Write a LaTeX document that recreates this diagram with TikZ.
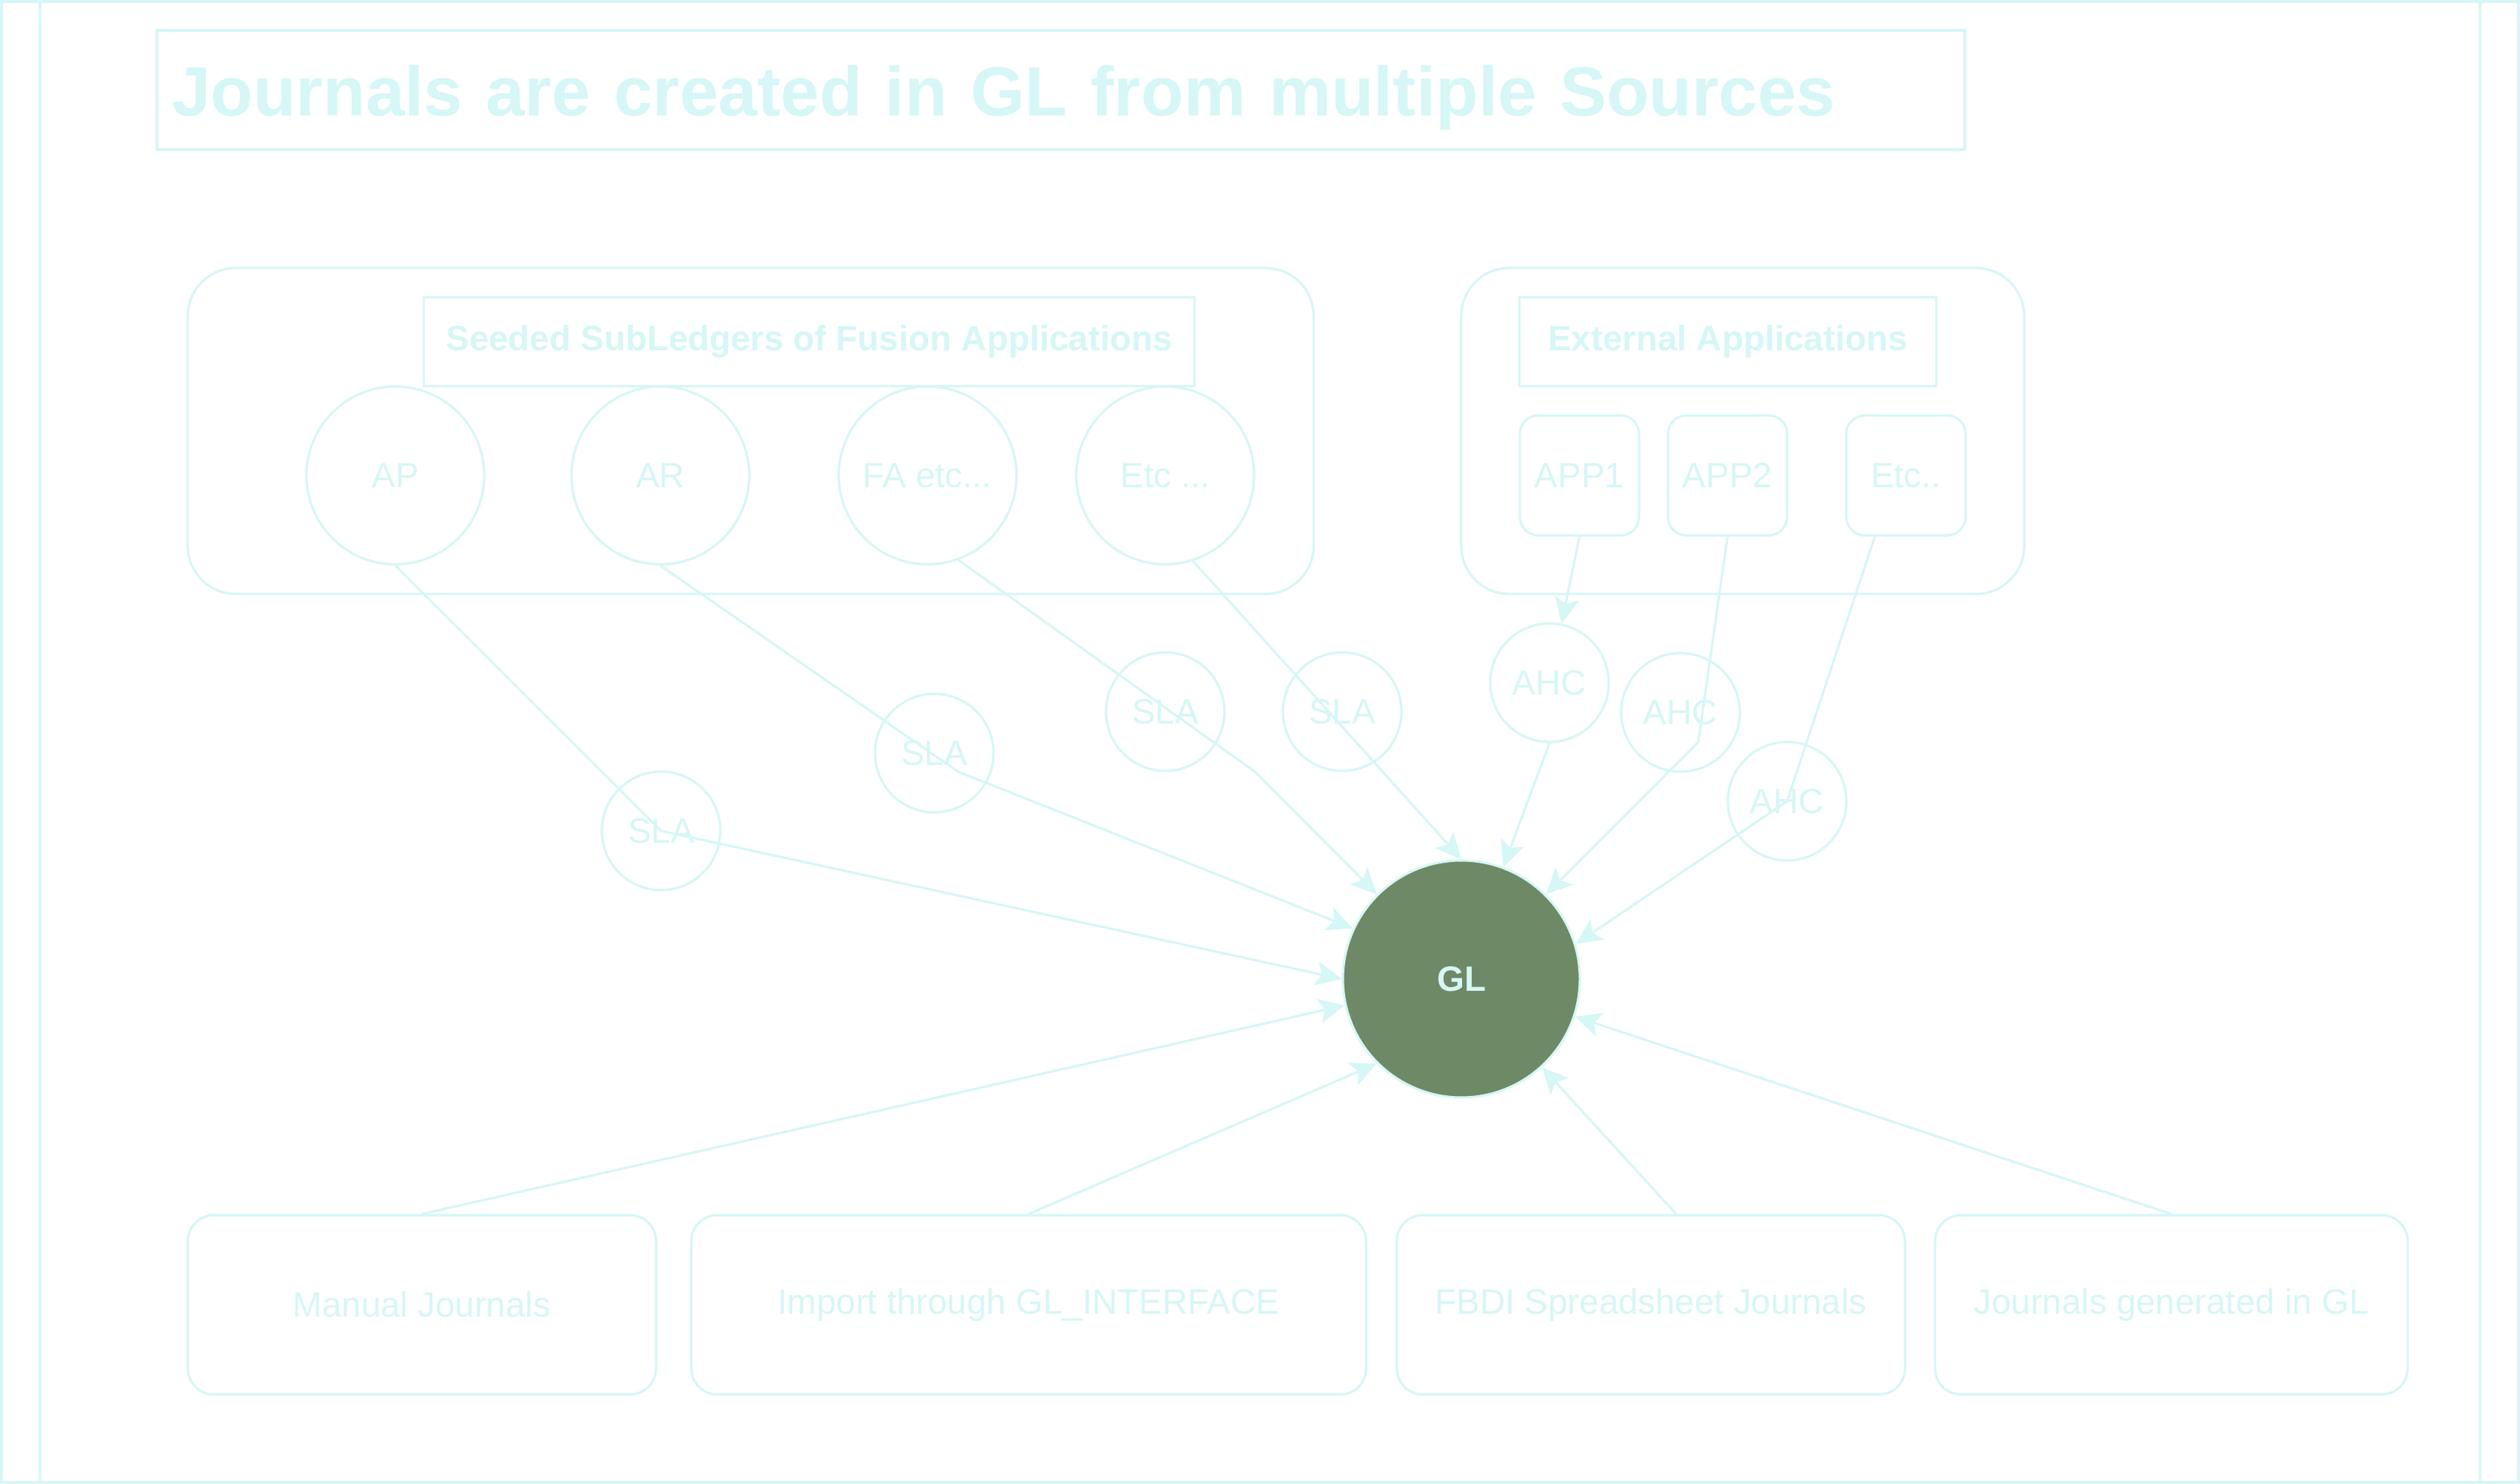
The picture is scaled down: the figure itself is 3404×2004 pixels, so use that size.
\documentclass[tikz,border=0pt]{standalone}
\usepackage{fontspec}
\setmainfont{Liberation Sans}
\usepackage{tikz}
\usetikzlibrary{arrows.meta,calc}
\definecolor{paleline}{HTML}{D5F7F5}
\definecolor{glgreen}{HTML}{6D8966}

\begin{document}
\begin{tikzpicture}[x=0.01cm,y=-0.01cm,color=paleline,line width=0.032cm,
  lbl/.style={font=\fontsize{13.5}{16}\selectfont},
  ledger/.style={lbl,circle,draw,minimum size=2.4cm,inner sep=0pt},
  small/.style={lbl,circle,draw,minimum size=1.6cm,inner sep=0pt},
  grp/.style={draw,rounded corners=0.65cm,minimum height=4.4cm},
  hdr/.style={draw,minimum height=1.2cm,font=\bfseries\fontsize{13.5}{16}\selectfont},
  appbox/.style={lbl,draw,rounded corners=0.25cm,minimum width=1.61cm,minimum height=1.62cm},
  jrnl/.style={lbl,draw,rounded corners=0.35cm,minimum height=2.42cm},
  feed/.style={-{Stealth[length=0.35cm,width=0.33cm,inset=0.08cm]}}]
  \useasboundingbox (0,0) rectangle (3404,2004);
  % frame
  \draw (2,2) rectangle (3402,2002);
  \draw (54,2) -- (54,2002);
  \draw (3350,2) -- (3350,2002);
  % title
  \node[draw,line width=0.04cm,minimum height=1.61cm,text width=24cm,align=left,inner xsep=0.2cm,
    text height=0.69cm,text depth=0cm,
    font=\bfseries\fontsize{26.8}{30}\selectfont] (title) at (1433,121.5) {Journals are created in GL from multiple Sources};
  % seeded subledgers
  \node[grp,minimum width=15.2cm] (seeded) at (1014,582) {};
  \node[hdr,minimum width=10.4cm] (seededhdr) at (1093,461.5) {Seeded SubLedgers of Fusion Applications};
  \node[ledger] (ap) at (534,642) {AP};
  \node[ledger] (ar) at (892,642) {AR};
  \node[ledger] (fa) at (1253,642) {FA etc...};
  \node[ledger] (etcsl) at (1574,642) {Etc ...};
  % external applications
  \node[grp,minimum width=7.6cm] (external) at (2354,582) {};
  \node[hdr,minimum width=5.62cm] (externalhdr) at (2334,461.5) {External Applications};
  \node[appbox] (app1) at (2133.5,642) {APP1};
  \node[appbox] (app2) at (2333.5,642) {APP2};
  \node[appbox] (etcapp) at (2574.5,642) {Etc..};
  % SLA and AHC
  \node[small] (sla1) at (893,1122) {SLA};
  \node[small] (sla2) at (1262,1017) {SLA};
  \node[small] (sla3) at (1574,961) {SLA};
  \node[small] (sla4) at (1813,961) {SLA};
  \node[small] (ahc1) at (2093,922) {AHC};
  \node[small] (ahc2) at (2270,962) {AHC};
  \node[small] (ahc3) at (2414,1082) {AHC};
  % general ledger
  \node[circle,draw,fill=glgreen,minimum size=3.2cm,inner sep=0pt,font=\bfseries\fontsize{13.5}{16}\selectfont] (gl) at (1974,1322) {GL};
  % journal sources
  \node[jrnl,minimum width=6.32cm] (manual) at (570,1762) {Manual Journals};
  \node[jrnl,minimum width=9.11cm] (import) at (1389.5,1762) {Import through GL\_INTERFACE};
  \node[jrnl,minimum width=6.86cm] (fbdi) at (2230,1762) {FBDI Spreadsheet Journals};
  \node[jrnl,minimum width=6.38cm] (glgen) at (2933,1762) {Journals generated in GL};
  % bends
  \coordinate (arbend) at (1294,1042);
  \coordinate (fabend) at (1695,1042);
  \coordinate (app2bend) at (2294,1002);
  % connectors
  \draw[feed] (ap.south) -- (sla1.center) -- (gl.west);
  \draw[feed] (ar.south) -- (arbend) -- (gl.155);
  \draw[feed] (fa.-70) -- (fabend) -- (gl);
  \draw[feed] (etcsl.-72) -- (gl.north);
  \draw[feed] (app1.south) -- (ahc1);
  \draw[feed] (ahc1.south) -- (gl);
  \draw[feed] (app2.south) -- (app2bend) -- (gl);
  \draw[feed] ($(etcapp.south)+(-42,0)$) -- (ahc3.center) -- (gl.17);
  \draw[feed] (manual.north) -- (gl);
  \draw[feed] (import.north) -- (gl.225);
  \draw[feed] ($(fbdi.north)+(34,0)$) -- (gl);
  \draw[feed] (glgen.north) -- (gl);
\end{tikzpicture}
\end{document}
